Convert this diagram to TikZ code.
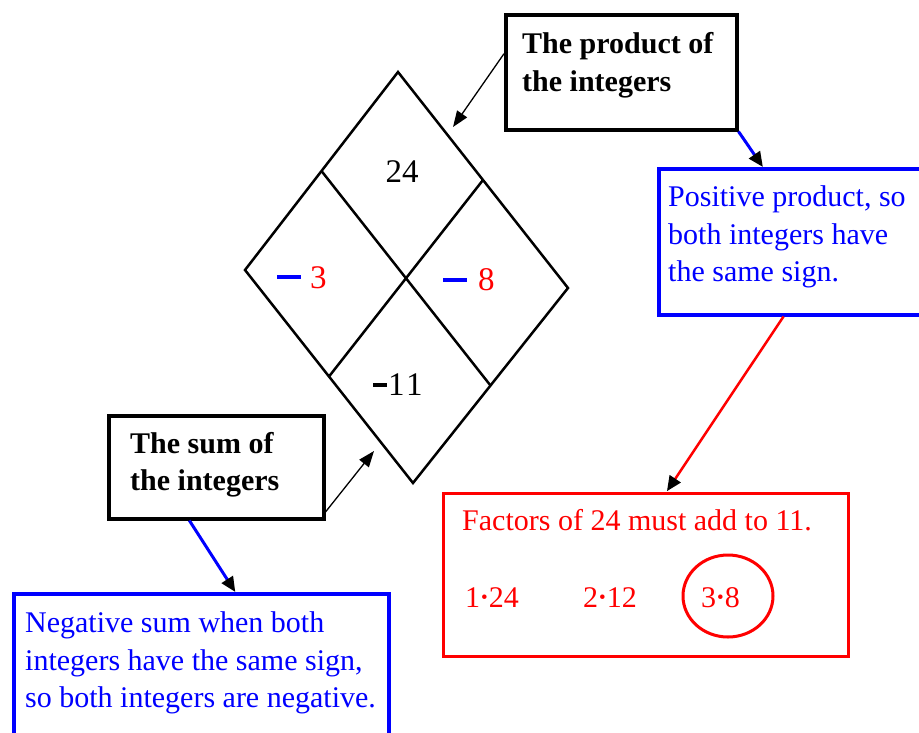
\documentclass[tikz,border=0pt]{standalone}
\usepackage{fontspec}
\setmainfont{Liberation Serif}
\usetikzlibrary{arrows.meta,calc}
\definecolor{pblue}{RGB}{0,0,255}
\definecolor{pred}{RGB}{255,0,0}
\newcommand{\sdot}{\hspace{1pt}\raisebox{3.8pt}{\fontsize{19}{19}\selectfont •}\hspace{1pt}}
\begin{document}
\begin{tikzpicture}[x=1pt,y=-1pt,
  boxbase/.style={inner sep=0pt,anchor=north west},
  blackbox/.style={boxbase,draw=black,line width=3.5pt},
  bluebox/.style={boxbase,draw=pblue,line width=3.5pt},
  redbox/.style={boxbase,draw=pred,line width=3pt},
  txt/.style={anchor=north west,inner sep=0pt,align=left,font=\fontsize{30}{37.5}\selectfont},
  txtb/.style={txt,font=\fontsize{30}{37.5}\selectfont\bfseries},
  rowtxt/.style={anchor=base west,inner sep=0pt,text=pred,font=\fontsize{30}{36}\selectfont},
  numtxt/.style={anchor=base,inner sep=0pt,font=\fontsize{33}{36}\selectfont},
  diam/.style={draw=black,line width=2.5pt,line join=miter},
  thinarr/.style={draw=black,line width=1.3pt,-{Triangle[length=16pt,width=12pt]}},
  bluearr/.style={draw=pblue,line width=3pt,-{Triangle[length=15pt,width=13pt,color=black]}},
  redarr/.style={draw=pred,line width=2.5pt,-{Triangle[length=15pt,width=13pt,color=black]}}
]
\useasboundingbox (0,0) rectangle (919,732);

% diamond
\coordinate (T) at (398,72);
\coordinate (R) at (568,288);
\coordinate (B) at (413,483);
\coordinate (L) at (245,270);
\coordinate (TL) at ($(T)!0.5!(L)$);
\coordinate (TR) at ($(T)!0.5!(R)$);
\coordinate (BL) at ($(B)!0.5!(L)$);
\coordinate (BR) at ($(B)!0.5!(R)$);
\draw[diam] (T) -- (R) -- (B) -- (L) -- cycle;
\draw[diam] (TL) -- (BR);
\draw[diam] (TR) -- (BL);

\node[numtxt] (n24) at (402,182) {24};
\node[numtxt,anchor=base west] (nm3) at (277,288) {\textcolor{pblue}{\rule[9.5pt]{24pt}{3.5pt}}\hspace{9pt}\textcolor{pred}{3}};
\node[numtxt,anchor=base west] (nm8) at (443,290) {\textcolor{pblue}{\rule[8.5pt]{24pt}{3.5pt}}\hspace{11pt}\textcolor{pred}{8}};
\node[numtxt,anchor=base west] (nm11) at (373,395) {\rule[8.5pt]{14pt}{4pt}\hspace{1pt}1\hspace{1.5pt}1};

% boxes
\node[blackbox,minimum width=231pt,minimum height=115pt] (prod) at (504,13) {};
\node[txtb] (prodt) at (522,32.5) {The product of\\the integers};

\node[bluebox,minimum width=268pt,minimum height=146pt] (pos) at (657,167) {};
\node[txt,text=pblue] (post) at (668,185.5) {Positive product, so\\both integers have\\the same sign.};

\node[blackbox,minimum width=215pt,minimum height=103pt] (sum) at (107,414) {};
\node[txtb] (sumt) at (130,431.7) {The sum of\\the integers};

\node[bluebox,minimum width=375pt,minimum height=150pt] (neg) at (12,592) {};
\node[txt,text=pblue] (negt) at (25,611.5) {Negative sum when both\\integers have the same sign,\\so both integers are negative.};

\node[redbox,minimum width=405pt,minimum height=163pt] (fact) at (442,492) {};
\node[txt,text=pred] (factt) at (462,509.5) {Factors of 24 must add to 11.};
\node[rowtxt] (f1) at (465,607) {1\sdot24};
\node[rowtxt] (f2) at (583,607) {2\sdot12};
\node[rowtxt] (f3) at (701,607) {3\sdot8};
\draw[pred,line width=3pt] (728,596) ellipse [x radius=45pt, y radius=41pt];

% connectors
\coordinate (ptip) at (453,127);
\draw[thinarr] (prod.171) -- (ptip);
\draw[bluearr] (prod.south east) -- ($(pos.north west)!0.39!(pos.north east)$);
\draw[redarr,shorten >=1pt] ($(pos.south west)!0.466!(pos.south east)$) -- ($(fact.north west)!0.55!(fact.north east)$);
\coordinate (stip) at (374,451);
\draw[thinarr] ($(sum.north east)!0.92!(sum.south east)$) -- (stip);
\draw[bluearr] ($(sum.south west)!0.377!(sum.south east)$) -- ($(neg.north west)!0.59!(neg.north east)$);
\end{tikzpicture}
\end{document}
